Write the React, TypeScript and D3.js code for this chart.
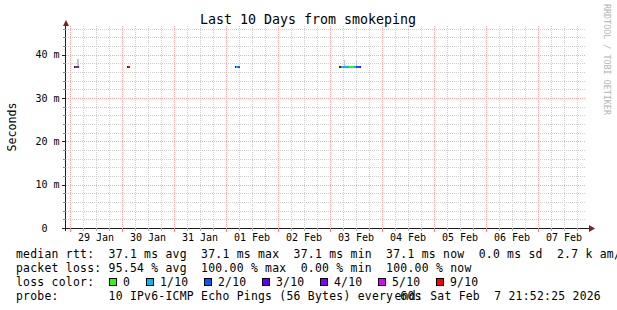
import React from "react";
import * as d3 from "d3";

const W = 617;
const H = 310;

const title = "Last 10 Days from smokeping";
const yAxisLabel = "Seconds";
const watermark = "RRDTOOL / TOBI OETIKER";
const rangeStart = "2026-01-28T21:52:25Z";
const rangeEnd = "2026-02-07T21:52:25Z";
const yMax = 46.65;
const yMajorTicks = [0, 10, 20, 30, 40];
const yMinorStep = 2;

// median samples (loss 10 = dark edge pixel)
const medStart = [
  "2026-01-29T02:01Z", "2026-01-29T02:29Z", "2026-01-29T03:24Z",
  "2026-01-30T02:30Z", "2026-01-30T02:58Z",
  "2026-02-01T04:20Z", "2026-02-01T04:48Z", "2026-02-01T05:44Z",
  "2026-02-03T04:20Z", "2026-02-03T05:16Z", "2026-02-03T08:58Z", "2026-02-03T10:53Z", "2026-02-03T11:48Z", "2026-02-03T13:39Z",
];
const medEnd = [
  "2026-01-29T02:29Z", "2026-01-29T03:24Z", "2026-01-29T04:20Z",
  "2026-01-30T02:58Z", "2026-01-30T03:53Z",
  "2026-02-01T04:48Z", "2026-02-01T05:44Z", "2026-02-01T06:39Z",
  "2026-02-03T05:16Z", "2026-02-03T08:58Z", "2026-02-03T10:53Z", "2026-02-03T11:48Z", "2026-02-03T13:39Z", "2026-02-03T14:06Z",
];
const medLoss = [10, 2, 9, 10, 9, 10, 1, 2, 10, 1, 0, 1, 2, 3];
const medRtt = [37.1, 37.1, 37.1, 37.1, 37.1, 37.1, 37.1, 37.1, 37.1, 37.1, 37.1, 37.1, 37.1, 37.1];

const smokeStart = ["2026-01-29T03:24Z", "2026-02-03T06:40Z", "2026-02-03T11:48Z"];
const smokeEnd = ["2026-01-29T04:20Z", "2026-02-03T07:07Z", "2026-02-03T12:16Z"];
const smokeLow = [37.1, 37.1, 37.1];
const smokeHigh = [39.0, 38.8, 38.6];

const lossLevels = [0, 1, 2, 3, 4, 5, 9];
const lossLabels = ["0", "1/10", "2/10", "3/10", "4/10", "5/10", "9/10"];
const lossColors = ["#26ff00", "#00b8ff", "#0059ff", "#5e00ff", "#7e00ff", "#dd00ff", "#ff0000"];
const darkEdgeColor = "#6b1010";

const legendRtt = "median rtt:  37.1 ms avg  37.1 ms max  37.1 ms min  37.1 ms now  0.0 ms sd  2.7 k am/s";
const legendLoss = "packet loss: 95.54 % avg  100.00 % max  0.00 % min  100.00 % now";
const legendColorLabel = "loss color:";
const legendProbe = "probe:       10 IPv6-ICMP Echo Pings (56 Bytes) every 60s";
const legendEnd = "end: Sat Feb  7 21:52:25 2026";

const MONO = "'DejaVu Sans Mono', monospace";

export default function App() {
  const parse = (s: string) => new Date(s);
  const x = d3.scaleUtc().domain([parse(rangeStart), parse(rangeEnd)]).range([65.4, 585.4]);
  const y = d3.scaleLinear().domain([0, yMax]).range([228, 26]);

  const dayTicks = x.ticks(d3.utcDay.every(1) as any);
  const hourTicks = x.ticks(d3.utcHour.every(6) as any).filter((d) => d.getUTCHours() !== 0);
  const yMinor = d3.range(yMinorStep, yMax, yMinorStep).filter((v) => v % 10 !== 0);
  const yMajorGrid = yMajorTicks.filter((v) => v > 0);
  const labelDays = dayTicks.filter((d) => {
    const noon = d3.utcHour.offset(d, 12);
    return x(noon) > 66 && x(noon) < 586;
  });

  const colorFor = (loss: number) => {
    const i = lossLevels.indexOf(loss);
    return i >= 0 ? lossColors[i] : darkEdgeColor;
  };

  const px = (v: number) => Math.round(v) + 0.5;

  const adv = 7.12;
  const lx0 = 16;
  const boxes: { bx: number; tx: number; label: string; color: string }[] = [];
  let cx = lx0 + 13 * adv;
  lossLabels.forEach((lab, i) => {
    const bx = Math.round(cx);
    const tx = bx + 14;
    boxes.push({ bx, tx, label: lab, color: lossColors[i] });
    cx = tx + (lab.length + 2) * adv + 1.3;
  });

  const legendStyle: React.CSSProperties = {
    fontFamily: MONO,
    fontSize: "11.4px",
    letterSpacing: "0.26px",
    whiteSpace: "pre",
  };

  const LText = (p: { x: number; y: number; anchor?: string; children: string }) => (
    <text x={p.x} y={p.y} textAnchor={p.anchor || "start"} xmlSpace="preserve" style={legendStyle} fill="#000">
      {p.children}
    </text>
  );

  return (
    <svg
      width={W}
      height={H}
      style={{ position: "absolute", left: 0, top: 0, display: "block" }}
      xmlns="http://www.w3.org/2000/svg"
    >
      <rect x={0} y={0} width={W} height={H} fill="#ffffff" />

      {/* minor grid */}
      <g stroke="#cfcfcf" strokeWidth={1} strokeDasharray="1,1" shapeRendering="crispEdges">
        {yMinor.map((v) => (
          <line key={"ym" + v} x1={66} x2={586} y1={px(y(v))} y2={px(y(v))} />
        ))}
        {hourTicks.map((d) => (
          <line key={"xm" + d.getTime()} x1={px(x(d))} x2={px(x(d))} y1={26} y2={228} />
        ))}
      </g>
      {/* major grid */}
      <g stroke="#ffa5a5" strokeWidth={1} strokeDasharray="1,1" shapeRendering="crispEdges">
        {yMajorGrid.map((v) => (
          <line key={"yM" + v} x1={66} x2={586} y1={px(y(v))} y2={px(y(v))} />
        ))}
        {dayTicks.map((d) => (
          <line key={"xM" + d.getTime()} x1={px(x(d))} x2={px(x(d))} y1={26} y2={228} />
        ))}
      </g>

      {/* smoke */}
      <g fill="#c4c4c4" shapeRendering="crispEdges">
        {smokeStart.map((s, i) => {
          const x0 = x(parse(s));
          const x1 = x(parse(smokeEnd[i]));
          return (
            <rect key={"s" + i} x={x0} y={y(smokeHigh[i])} width={x1 - x0} height={y(smokeLow[i]) - y(smokeHigh[i])} />
          );
        })}
      </g>

      {/* median */}
      <g shapeRendering="crispEdges">
        {medStart.map((s, i) => {
          const x0 = x(parse(s));
          const x1 = x(parse(medEnd[i]));
          const yy = y(medRtt[i]);
          return (
            <rect key={"m" + i} x={x0} y={yy - 1} width={Math.max(1, x1 - x0)} height={2} fill={colorFor(medLoss[i])} />
          );
        })}
      </g>

      {/* axes */}
      <g shapeRendering="crispEdges">
        <line x1={65.5} x2={65.5} y1={24} y2={231} stroke="#1f1f1f" />
        <line x1={62} x2={591} y1={228.5} y2={228.5} stroke="#1f1f1f" />
        {yMinor.map((v) => (
          <line key={"ytm" + v} x1={63} x2={66} y1={px(y(v))} y2={px(y(v))} stroke="#8a8a8a" />
        ))}
        {yMajorGrid.map((v) => (
          <line key={"ytM" + v} x1={62} x2={66} y1={px(y(v))} y2={px(y(v))} stroke="#1f1f1f" />
        ))}
        {hourTicks.map((d) => (
          <line key={"xtm" + d.getTime()} x1={px(x(d))} x2={px(x(d))} y1={228} y2={231} stroke="#b0b0b0" />
        ))}
        {dayTicks.map((d) => (
          <line key={"xtM" + d.getTime()} x1={px(x(d))} x2={px(x(d))} y1={228} y2={232} stroke="#ff8080" />
        ))}
      </g>
      <polygon points="63,26 69,26 66,20" fill="#7f1f1f" />
      <polygon points="589,225 589,232 595,228.5" fill="#7f1f1f" />

      {/* y tick labels */}
      <g style={{ fontFamily: MONO, fontSize: "10px" }} fill="#000">
        {yMajorTicks.map((v) => (
          <text key={"yl" + v} x={v === 0 ? 47.5 : 59.5} y={y(v)} dy="0.36em" textAnchor="end">
            {v === 0 ? "0" : `${v} m`}
          </text>
        ))}
      </g>
      {/* x tick labels */}
      <g style={{ fontFamily: MONO, fontSize: "10px" }} fill="#000">
        {labelDays.map((d) => (
          <text key={"xl" + d.getTime()} x={x(d3.utcHour.offset(d, 12))} y={241} textAnchor="middle">
            {d3.utcFormat("%d %b")(d)}
          </text>
        ))}
      </g>

      {/* title */}
      <text x={308} y={24} textAnchor="middle" style={{ fontFamily: MONO, fontSize: "13.3px" }} fill="#000">
        {title}
      </text>
      {/* y axis label */}
      <text
        transform="translate(15.5,127) rotate(-90)"
        textAnchor="middle"
        style={{ fontFamily: MONO, fontSize: "11.6px" }}
        fill="#000"
      >
        {yAxisLabel}
      </text>
      {/* watermark */}
      <text
        transform="translate(604,4) rotate(90)"
        style={{ fontFamily: MONO, fontSize: "8.4px" }}
        fill="#b4b4b4"
      >
        {watermark}
      </text>

      {/* legend */}
      <LText x={lx0} y={258}>{legendRtt}</LText>
      <LText x={lx0} y={272}>{legendLoss}</LText>
      <LText x={lx0} y={286}>{legendColorLabel}</LText>
      {boxes.map((b) => (
        <g key={"lb" + b.label}>
          <rect x={b.bx + 0.5} y={278.5} width={7} height={7} fill={b.color} stroke="#000" strokeWidth={1} shapeRendering="crispEdges" />
          <LText x={b.tx} y={286}>{b.label}</LText>
        </g>
      ))}
      <LText x={lx0} y={300}>{legendProbe}</LText>
      <LText x={601} y={300} anchor="end">{legendEnd}</LText>
    </svg>
  );
}
